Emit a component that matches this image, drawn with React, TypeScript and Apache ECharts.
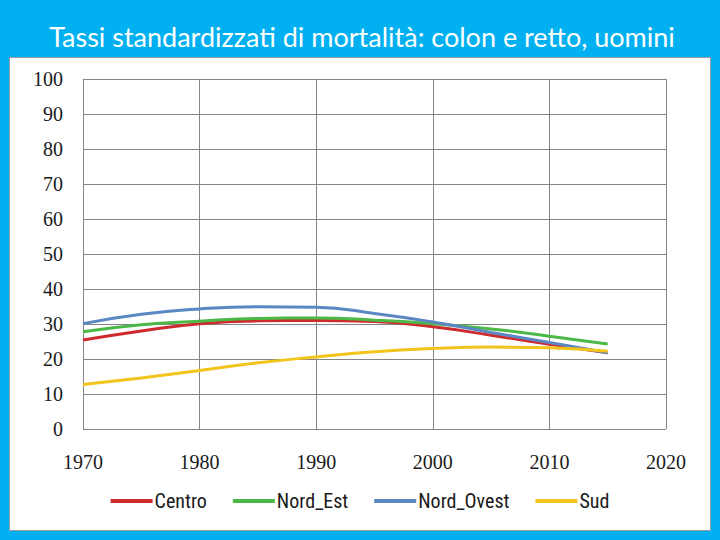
import React, { useEffect, useRef } from "react";
import * as echarts from "echarts";

const years = [1970, 1975, 1980, 1985, 1990, 1995, 2000, 2005, 2010, 2015];
const centro = [25.4, 28.0, 30.1, 30.9, 31.0, 30.7, 29.2, 26.8, 24.2, 21.8];
const nordEst = [27.8, 29.8, 30.8, 31.6, 31.7, 31.1, 30.1, 28.6, 26.5, 24.3];
const nordOvest = [30.1, 32.8, 34.3, 34.9, 34.8, 33.0, 30.6, 27.6, 24.7, 21.8];
const sud = [12.7, 14.6, 16.7, 18.9, 20.6, 22.1, 23.0, 23.4, 23.2, 22.2];
const seriesNames = ["Centro", "Nord_Est", "Nord_Ovest", "Sud"];
const seriesColors = ["#cf2a2e", "#4cb848", "#5b88c4", "#f2c41c"];
const titleText = "Tassi standardizzati di mortalità: colon e retto, uomini";

export default function App() {
  const ref = useRef<HTMLDivElement>(null);
  useEffect(() => {
    const chart = echarts.init(ref.current!, null, { renderer: "svg" });
    const all = [centro, nordEst, nordOvest, sud];
    chart.setOption({
      animation: false,
      backgroundColor: "#00b0f0",
      graphic: [
        {
          type: "rect",
          shape: { x: 9.5, y: 57.5, width: 701, height: 473 },
          style: { fill: "#ffffff", stroke: "#9a9a9a", lineWidth: 1 },
          z: -10,
        },
        {
          type: "text",
          x: 362,
          y: 36,
          style: {
            text: titleText,
            fill: "#ffffff",
            fontFamily: "Lato",
            fontSize: 27,
            align: "center",
            verticalAlign: "middle",
          },
        },
      ],
      grid: { left: 83, right: 54, top: 79, bottom: 111 },
      xAxis: {
        type: "value",
        min: 1970,
        max: 2020,
        interval: 10,
        axisLine: { show: false },
        axisTick: { show: false },
        splitLine: { show: true, lineStyle: { color: "#858585", width: 1 } },
        axisLabel: {
          margin: 23,
          fontSize: 20,
          color: "#1a1a1a",
          fontFamily: "Liberation Serif",
          formatter: (v: number) => String(v),
        },
      },
      yAxis: {
        type: "value",
        min: 0,
        max: 100,
        interval: 10,
        axisLine: { show: false },
        axisTick: { show: false },
        splitLine: { show: true, lineStyle: { color: "#858585", width: 1 } },
        axisLabel: {
          margin: 20,
          fontSize: 20,
          color: "#1a1a1a",
          fontFamily: "Liberation Serif",
        },
      },
      legend: {
        top: 486,
        left: "center",
        icon: "rect",
        itemWidth: 42,
        itemHeight: 4,
        itemGap: 26,
        textStyle: {
          fontSize: 20,
          color: "#1a1a1a",
          padding: [0, 0, 0, -3],
          fontFamily: "Roboto Condensed",
        },
        data: seriesNames,
      },
      series: seriesNames.map((name, i) => ({
        name,
        type: "line",
        smooth: true,
        showSymbol: false,
        symbol: "none",
        lineStyle: { width: 3, color: seriesColors[i] },
        itemStyle: { color: seriesColors[i] },
        data: years.map((y, j) => [y, all[i][j]]),
      })),
    });
    return () => chart.dispose();
  }, []);
  return (
    <div
      ref={ref}
      style={{ position: "fixed", left: 0, top: 0, width: 720, height: 540 }}
    />
  );
}
